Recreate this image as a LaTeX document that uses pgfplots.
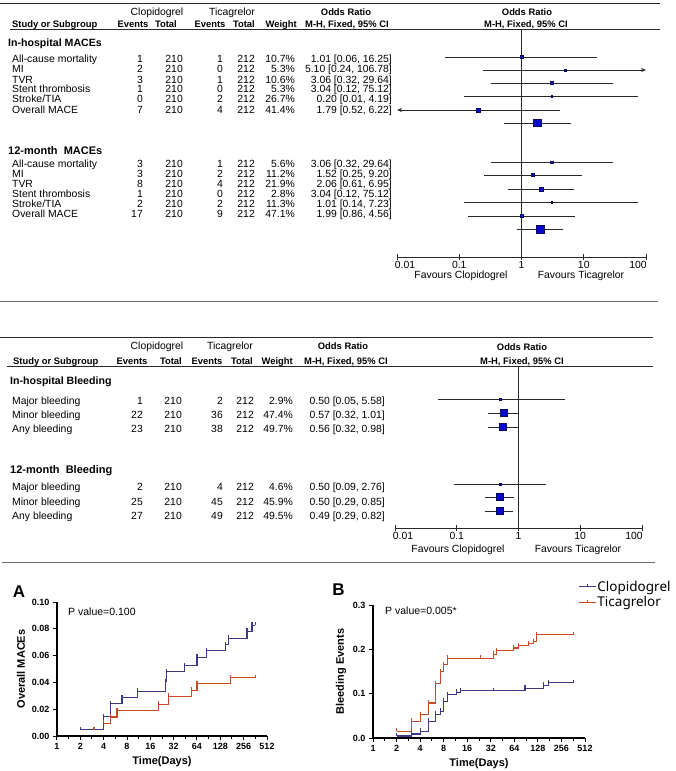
\documentclass[border=0pt]{standalone}
\usepackage{fontspec}
\setmainfont{Liberation Sans}
\newfontfamily\legfont{Noto Sans}
\usepackage{pgfplots}
\pgfplotsset{compat=1.18}
\usetikzlibrary{arrows.meta}

% censoring tick: short stroke upwards from the step
\pgfdeclareplotmark{cens}{%
  \pgfpathmoveto{\pgfpointorigin}%
  \pgfpathlineto{\pgfpoint{0pt}{\pgfplotmarksize}}%
  \pgfusepathqstroke}

\definecolor{sqblue}{RGB}{10,10,205}
\definecolor{sqedge}{RGB}{10,10,90}
\definecolor{kmblue}{RGB}{60,58,135}
\definecolor{kmred}{RGB}{200,75,35}
\definecolor{rule}{RGB}{40,40,40}

\newcommand\tf{\fontsize{10.4}{12}\selectfont}
\newcommand\hf{\bfseries\fontsize{9.4}{11}\selectfont}
\newcommand\gf{\bfseries\fontsize{10.6}{12}\selectfont}

% text helpers: x, y (pixels from top, middle of caps), text
\newcommand\TL[3]{\node[anchor=base west,inner sep=0pt,font=\tf] at (#1,{-(#2)-3.7}) {#3};}
\newcommand\TR[3]{\node[anchor=base east,inner sep=0pt,font=\tf] at (#1,{-(#2)-3.7}) {#3};}
\newcommand\TC[3]{\node[anchor=base,inner sep=0pt,font=\tf] at (#1,{-(#2)-3.7}) {#3};}

% column positions of the tables
\newcommand\cols[6]{\def\cE{#1}\def\cT{#2}\def\cF{#3}\def\cU{#4}\def\cW{#5}\def\cO{#6}}
\newcommand\row[8]{\TL{12}{#1}{#2}\TR{\cE}{#1}{#3}\TR{\cT}{#1}{#4}\TR{\cF}{#1}{#5}%
  \TR{\cU}{#1}{#6}\TR{\cW}{#1}{#7}\TR{\cO}{#1}{#8}}

% one odds ratio: lower, OR, upper, y, half side of square
\newcommand\ci[5]{%
  \addplot[ciline] coordinates {(#1,#4) (#3,#4)};
  \addplot[sqmark,mark size=#5] coordinates {(#2,#4)};}

\pgfplotsset{
  ciline/.style={rule,line width=0.8pt,mark=none,forget plot},
  sqmark/.style={only marks,mark=square*,forget plot,
    mark options={fill=sqblue,draw=sqedge,line width=0.4pt}},
  kmb/.style={kmblue,line width=1.1pt,const plot,mark=cens,mark size=3pt},
  kmr/.style={kmred,line width=1.1pt,const plot,mark=cens,mark size=3pt},
}

\begin{document}
\begin{tikzpicture}
\begin{scope}[x=1pt,y=1pt]
% ---------------- MACE table ----------------
\draw[rule,line width=0.8pt] (0,-3) -- (660,-3);
\draw[rule,line width=0.8pt] (10,-29) -- (660,-29);
\draw[rule!70,line width=0.8pt] (0,-301) -- (658,-301);
\TC{157}{12}{Clopidogrel}
\TC{232}{12}{Ticagrelor}
\TC{346}{12}{\hf Odds Ratio}
\TC{527}{12}{\hf Odds Ratio}
\TL{12}{24}{\hf Study or Subgroup}
\TC{133}{24}{\hf Events}
\TR{177}{24}{\hf Total}
\TC{210}{24}{\hf Events}
\TR{255}{24}{\hf Total}
\TR{297}{24}{\hf Weight}
\TC{347}{24}{\hf M-H, Fixed, 95\% CI}
\TC{526}{24}{\hf M-H, Fixed, 95\% CI}

\cols{143}{183}{223}{255}{295}{392}
\TL{8}{43}{\gf In-hospital MACEs}
\row{59}{All-cause mortality}{1}{210}{1}{212}{10.7\%}{1.01 [0.06, 16.25]}
\row{69}{MI}{2}{210}{0}{212}{5.3\%}{5.10 [0.24, 106.78]}
\row{80}{TVR}{3}{210}{1}{212}{10.6\%}{3.06 [0.32, 29.64]}
\row{89}{Stent thrombosis}{1}{210}{0}{212}{5.3\%}{3.04 [0.12, 75.12]}
\row{99}{Stroke/TIA}{0}{210}{2}{212}{26.7\%}{0.20 [0.01, 4.19]}
\row{110}{Overall MACE}{7}{210}{4}{212}{41.4\%}{1.79 [0.52, 6.22]}
\node[anchor=base west,inner sep=0pt,font=\bfseries\fontsize{11}{12}\selectfont] at (8,-154) {12-month\ \ MACEs};
\row{164}{All-cause mortality}{3}{210}{1}{212}{5.6\%}{3.06 [0.32, 29.64]}
\row{174}{MI}{3}{210}{2}{212}{11.2\%}{1.52 [0.25, 9.20]}
\row{184}{TVR}{8}{210}{4}{212}{21.9\%}{2.06 [0.61, 6.95]}
\row{194}{Stent thrombosis}{1}{210}{0}{212}{2.8\%}{3.04 [0.12, 75.12]}
\row{204}{Stroke/TIA}{2}{210}{2}{212}{11.3\%}{1.01 [0.14, 7.23]}
\row{214}{Overall MACE}{17}{210}{9}{212}{47.1\%}{1.99 [0.86, 4.56]}
\TC{461}{275}{Favours Clopidogrel}
\TC{581}{275}{Favours Ticagrelor}

% ---------------- bleeding table ----------------
\draw[rule,line width=0.8pt] (0,-337) -- (653,-337);
\draw[rule,line width=0.8pt] (7,-366) -- (653,-366);
\draw[rule!70,line width=0.8pt] (2,-562) -- (655,-562);
\TC{157}{346}{Clopidogrel}
\TC{230}{346}{Ticagrelor}
\TC{343}{346}{\hf Odds Ratio}
\TC{522}{347}{\hf Odds Ratio}
\TL{13}{361}{\hf Study or Subgroup}
\TC{132}{361}{\hf Events}
\TR{182}{361}{\hf Total}
\TC{207}{361}{\hf Events}
\TR{253}{361}{\hf Total}
\TR{293}{361}{\hf Weight}
\TC{346}{361}{\hf M-H, Fixed, 95\% CI}
\TC{522}{361}{\hf M-H, Fixed, 95\% CI}

\cols{143}{182}{223}{254}{293}{385}
\TL{10}{381}{\gf In-hospital Bleeding}
\row{401}{Major bleeding}{1}{210}{2}{212}{2.9\%}{0.50 [0.05, 5.58]}
\row{415}{Minor bleeding}{22}{210}{36}{212}{47.4\%}{0.57 [0.32, 1.01]}
\row{429}{Any bleeding}{23}{210}{38}{212}{49.7\%}{0.56 [0.32, 0.98]}
\node[anchor=base west,inner sep=0pt,font=\bfseries\fontsize{11}{12}\selectfont] at (10,-473) {12-month\ \ Bleeding};
\row{487}{Major bleeding}{2}{210}{4}{212}{4.6\%}{0.50 [0.09, 2.76]}
\row{502}{Minor bleeding}{25}{210}{45}{212}{45.9\%}{0.50 [0.29, 0.85]}
\row{516}{Any bleeding}{27}{210}{49}{212}{49.5\%}{0.49 [0.29, 0.82]}
\TC{458}{549}{Favours Clopidogrel}
\TC{578}{549}{Favours Ticagrelor}

% ---------------- panel letters and p values ----------------
\node[font=\bfseries\fontsize{17}{18}\selectfont,inner sep=0pt] at (19,-592) {A};
\node[anchor=base west,inner sep=0pt,font=\fontsize{10.5}{12}\selectfont] at (68,-615.7) {P value=0.100};
\node[font=\bfseries\fontsize{17}{18}\selectfont,inner sep=0pt] at (338.5,-590) {B};
\node[anchor=base west,inner sep=0pt,font=\fontsize{10.5}{12}\selectfont] at (385,-614.7) {P value=0.005*};
\end{scope}

% ---------------- forest plot, MACEs ----------------
\begin{axis}[scale only axis, anchor=south west, at={(397pt,-257pt)},
    width=249pt, height=228pt, xmode=log,
    xmin=0.01, xmax=100, ymin=-257, ymax=-29, clip=false,
    axis x line*=bottom, axis y line=none, ytick=\empty,
    xtick={0.01,0.1,1,10,100},
    xticklabels={\hspace*{16pt}0.01,0.1,1,10,100\hspace*{16pt}},
    xminorticks=false, tick align=center, major tick length=6pt,
    axis line style={rule,line width=0.8pt},
    tick style={rule,line width=0.8pt},
    xticklabel style={font=\tf,inner sep=1pt}]
  \addplot[ciline] coordinates {(1,-29) (1,-257)};
  \ci{0.06}{1.01}{16.25}{-57}{1.6}
  \addplot[ciline,-{Stealth[length=5pt,width=4pt]}] coordinates {(0.24,-70) (100,-70)};
  \addplot[sqmark,mark size=1.1] coordinates {(5.10,-70)};
  \ci{0.32}{3.06}{29.64}{-83}{1.5}
  \ci{0.12}{3.04}{75.12}{-96}{0.8}
  \addplot[ciline,-{Stealth[length=5pt,width=4pt]}] coordinates {(4.19,-110) (0.01,-110)};
  \addplot[sqmark,mark size=2] coordinates {(0.20,-110)};
  \ci{0.52}{1.79}{6.22}{-123}{3.6}
  \ci{0.32}{3.06}{29.64}{-162}{1.2}
  \ci{0.25}{1.52}{9.20}{-175}{1.4}
  \ci{0.61}{2.06}{6.95}{-189}{2.1}
  \ci{0.12}{3.04}{75.12}{-202}{0.7}
  \ci{0.14}{1.01}{7.23}{-216}{1.4}
  \ci{0.86}{1.99}{4.56}{-229}{4}
\end{axis}

% ---------------- forest plot, bleeding ----------------
\begin{axis}[scale only axis, anchor=south west, at={(395pt,-528pt)},
    width=247pt, height=162pt, xmode=log,
    xmin=0.01, xmax=100, ymin=-528, ymax=-366, clip=false,
    axis x line*=bottom, axis y line=none, ytick=\empty,
    xtick={0.01,0.1,1,10,100},
    xticklabels={\hspace*{16pt}0.01,0.1,1,10,100\hspace*{16pt}},
    xminorticks=false, tick align=center, major tick length=6pt,
    axis line style={rule,line width=0.8pt},
    tick style={rule,line width=0.8pt},
    xticklabel style={font=\tf,inner sep=1pt}]
  \addplot[ciline] coordinates {(1,-366) (1,-528)};
  \ci{0.05}{0.50}{5.58}{-399}{0.8}
  \ci{0.32}{0.57}{1.01}{-413}{3.4}
  \ci{0.32}{0.56}{0.98}{-427}{3.5}
  \ci{0.09}{0.50}{2.76}{-484}{1}
  \ci{0.29}{0.50}{0.85}{-497}{3.4}
  \ci{0.29}{0.49}{0.82}{-511}{3.6}
\end{axis}

% ---------------- Kaplan-Meier A ----------------
\begin{axis}[scale only axis, anchor=south west, at={(57pt,-736pt)},
    width=210pt, height=134pt,
    xmode=log, log basis x=2, xmin=1, xmax=512, clip=false,
    axis lines=left, axis line style={-,line width=1.1pt},
    tick style={black,line width=1pt}, tick align=outside,
    major tick length=4pt, xminorticks=false, yminorticks=false,
    xtick={1,2,4,8,16,32,64,128,256,512},
    xticklabels={1,2,4,8,16,32,64,128,256,512},
    extra x ticks={1.414,2.828,5.657,11.31,22.63,45.25,90.51,181,362},
    extra x tick labels={},
    extra x tick style={major tick length=2.5pt},
    tick label style={font=\bfseries\fontsize{9}{10}\selectfont},
    xlabel style={font=\bfseries\fontsize{11}{12}\selectfont,yshift=7pt},
    ylabel style={font=\bfseries\fontsize{11}{12}\selectfont},
    xlabel={Time(Days)},
    ymin=0, ymax=0.1, ytick={0,0.02,0.04,0.06,0.08,0.1},
    yticklabels={0.00,0.02,0.04,0.06,0.08,0.10},
    ylabel={Overall MACEs}]
  \addplot[kmr] coordinates {(3,0.0047) (4,0.0094) (4.87,0.0142) (5.94,0.0189)
    (20.5,0.0236) (27.6,0.0295) (55,0.034) (64,0.039) (172,0.0435) (362,0.0435)};
  \addplot[kmb] coordinates {(2,0.0048) (4,0.0143) (4.87,0.024) (6.9,0.0286)
    (10.8,0.0333) (25,0.0405) (25.8,0.048) (44.4,0.0524) (64,0.0588) (86,0.0635)
    (148,0.068) (164,0.073) (283,0.078) (328,0.0825) (362,0.0825)};
\end{axis}

% ---------------- Kaplan-Meier B ----------------
\begin{axis}[scale only axis, anchor=south west, at={(373pt,-738pt)},
    width=212pt, height=133pt,
    xmode=log, log basis x=2, xmin=1, xmax=512, clip=false,
    axis lines=left, axis line style={-,line width=1.1pt},
    tick style={black,line width=1pt}, tick align=outside,
    major tick length=4pt, xminorticks=false, yminorticks=false,
    xtick={1,2,4,8,16,32,64,128,256,512},
    xticklabels={1,2,4,8,16,32,64,128,256,512},
    extra x ticks={1.414,2.828,5.657,11.31,22.63,45.25,90.51,181,362},
    extra x tick labels={},
    extra x tick style={major tick length=2.5pt},
    tick label style={font=\bfseries\fontsize{9}{10}\selectfont},
    xlabel style={font=\bfseries\fontsize{11}{12}\selectfont,yshift=7pt},
    ylabel style={font=\bfseries\fontsize{11}{12}\selectfont},
    xlabel={Time(Days)},
    ymin=0, ymax=0.3, ytick={0,0.1,0.2,0.3},
    yticklabels={0.0,0.1,0.2,0.3},
    ylabel={Bleeding Events},
    legend style={at={(axis description cs:0.955,1.205)}, anchor=north west,
      draw=none, fill=none, row sep=2pt,
      font=\legfont\fontsize{13.5}{15}\selectfont,
      nodes={inner sep=1pt}},
    legend cell align=left,
    legend image code/.code={%
      \draw[#1,mark=none,line width=0.8pt] (0pt,0pt) -- (17pt,0pt);
      \draw[#1,mark=none,line width=0.8pt] (8.5pt,0pt) -- (8.5pt,3pt);}]
  \addplot[kmb] coordinates {(2.02,0.0045) (3.08,0.009) (4,0.015) (5.13,0.0375)
    (6.23,0.054) (7.2,0.06) (7.96,0.0825) (8.96,0.0975) (11.8,0.103) (13,0.107)
    (34.6,0.107) (87.6,0.1125) (150,0.1185) (174,0.125) (362,0.125)};
  \addlegendentry{Clopidogrel}
  \addplot[kmr] coordinates {(2.02,0.015) (3.08,0.0375) (4,0.0525) (5.13,0.079)
    (6.23,0.122) (7.2,0.15) (7.96,0.165) (8.96,0.18) (23.4,0.18) (34.6,0.189)
    (38.2,0.197) (62,0.203) (72,0.208) (97,0.213) (112,0.2175) (123,0.2325)
    (362,0.2325)};
  \addlegendentry{Ticagrelor}
\end{axis}

\pgfresetboundingbox
\path[use as bounding box] (0pt,0pt) rectangle (676pt,-771pt);
\end{tikzpicture}
\end{document}
